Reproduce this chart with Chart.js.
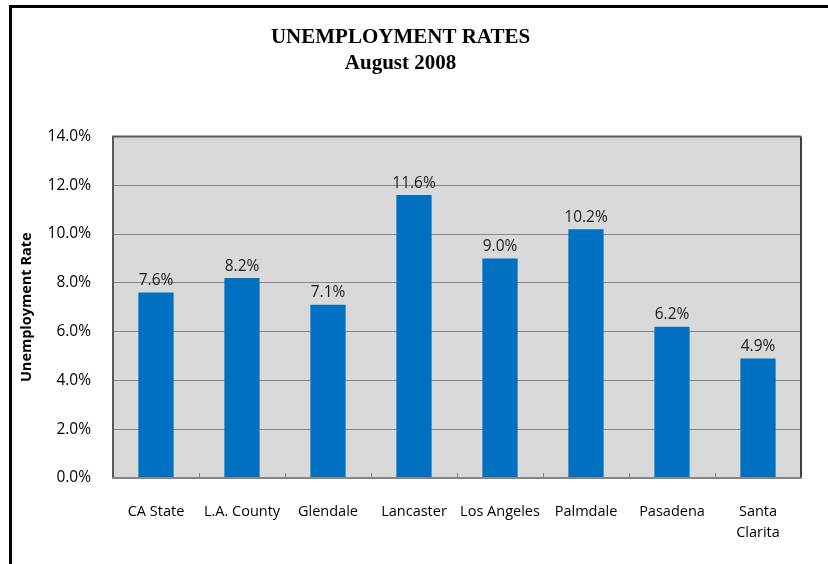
<!DOCTYPE html>
<html>
<head>
<meta charset="utf-8">
<script src="https://cdn.jsdelivr.net/npm/chart.js@4.4.1/dist/chart.umd.min.js"></script>
<style>
  html, body { margin: 0; padding: 0; background: #fff; overflow: hidden; }
  #wrap { position: relative; width: 828px; height: 564px; }
  #frame { position: absolute; left: 9px; top: 5px; width: 1000px; height: 1000px;
           border-left: 3px solid #000; border-top: 3px solid #000; pointer-events: none; }
</style>
</head>
<body>
<div id="wrap">
  <canvas id="c" width="828" height="564"></canvas>
  <div id="frame"></div>
</div>
<script>
const categories = ["CA State", "L.A. County", "Glendale", "Lancaster", "Los Angeles", "Palmdale", "Pasadena", ["Santa", "Clarita"]];
const rates = [7.6, 8.2, 7.1, 11.6, 9.0, 10.2, 6.2, 4.9];
const yTicks = [0, 2, 4, 6, 8, 10, 12, 14];
const titleLines = ["UNEMPLOYMENT RATES", "August 2008"];
const yTitle = "Unemployment Rate";

const BODY_FONT = "'Open Sans', Lato, sans-serif";

const plotDecor = {
  id: 'plotDecor',
  beforeDraw(chart) {
    const a = chart.chartArea, ctx = chart.ctx;
    ctx.save();
    ctx.fillStyle = '#d9d9d9';
    ctx.fillRect(a.left, a.top, a.right - a.left, a.bottom - a.top);
    ctx.restore();
  },
  afterDatasetsDraw(chart) {
    const a = chart.chartArea, ctx = chart.ctx;
    const xs = chart.scales.x;
    ctx.save();
    ctx.strokeStyle = '#868686';
    ctx.lineWidth = 1;
    const n = categories.length;
    const step = (xs.getPixelForValue(1) - xs.getPixelForValue(0));
    for (let i = 1; i < n; i++) {
      const x = Math.round(xs.getPixelForValue(i) - step / 2) + 0.5;
      ctx.beginPath();
      ctx.moveTo(x, a.bottom);
      ctx.lineTo(x, a.bottom - 5);
      ctx.stroke();
    }
    ctx.lineWidth = 2;
    ctx.strokeStyle = '#595959';
    ctx.beginPath();
    ctx.moveTo(a.left, a.bottom);
    ctx.lineTo(a.left, a.top);
    ctx.lineTo(a.right, a.top);
    ctx.stroke();
    ctx.strokeStyle = '#404040';
    ctx.beginPath();
    ctx.moveTo(a.right, a.top);
    ctx.lineTo(a.right, a.bottom);
    ctx.stroke();
    ctx.strokeStyle = '#868686';
    ctx.beginPath();
    ctx.moveTo(a.left - 1, a.bottom);
    ctx.lineTo(a.right + 1, a.bottom);
    ctx.stroke();
    ctx.fillStyle = '#1a1a1a';
    ctx.font = "15.5px " + BODY_FONT;
    ctx.textAlign = 'center';
    ctx.textBaseline = 'bottom';
    const meta = chart.getDatasetMeta(0);
    meta.data.forEach((bar, i) => {
      ctx.fillText(rates[i].toFixed(1) + '%', bar.x, bar.y - 4);
    });
    ctx.restore();
  }
};

new Chart(document.getElementById('c'), {
  type: 'bar',
  data: {
    labels: categories,
    datasets: [{
      data: rates,
      backgroundColor: '#0070c0',
      borderWidth: 0,
      barPercentage: 0.41,
      categoryPercentage: 1.0
    }]
  },
  options: {
    responsive: false,
    animation: false,
    devicePixelRatio: 1,
    layout: { padding: { left: 0, right: 27, top: 0, bottom: 0 } },
    plugins: {
      legend: { display: false },
      tooltip: { enabled: false },
      title: {
        display: true,
        text: titleLines,
        color: '#000',
        font: { family: "'Liberation Serif', serif", size: 21, weight: 'bold', lineHeight: 1.25 },
        padding: { top: 24, bottom: 60 }
      }
    },
    scales: {
      x: {
        grid: { display: false, drawTicks: false },
        border: { display: false },
        ticks: { color: '#000', font: { family: BODY_FONT, size: 14.5, lineHeight: 1.4 }, padding: 24, maxRotation: 0, autoSkip: false },
        afterFit(scale) { scale.height = 86; }
      },
      y: {
        min: 0, max: 14,
        afterBuildTicks(scale) { scale.ticks = yTicks.map(v => ({ value: v })); },
        grid: { color: '#868686', lineWidth: 1, drawTicks: false },
        border: { display: false },
        ticks: { color: '#000', font: { family: BODY_FONT, size: 15.5 }, padding: 22,
                 callback: v => v.toFixed(1) + '%' },
        title: { display: true, text: yTitle, color: '#000',
                 font: { family: BODY_FONT, size: 14.5, weight: 'bold' }, padding: { top: 18, bottom: 0 } },
        afterFit(scale) { scale.width = 113; }
      }
    }
  },
  plugins: [plotDecor]
});
</script>
</body>
</html>
